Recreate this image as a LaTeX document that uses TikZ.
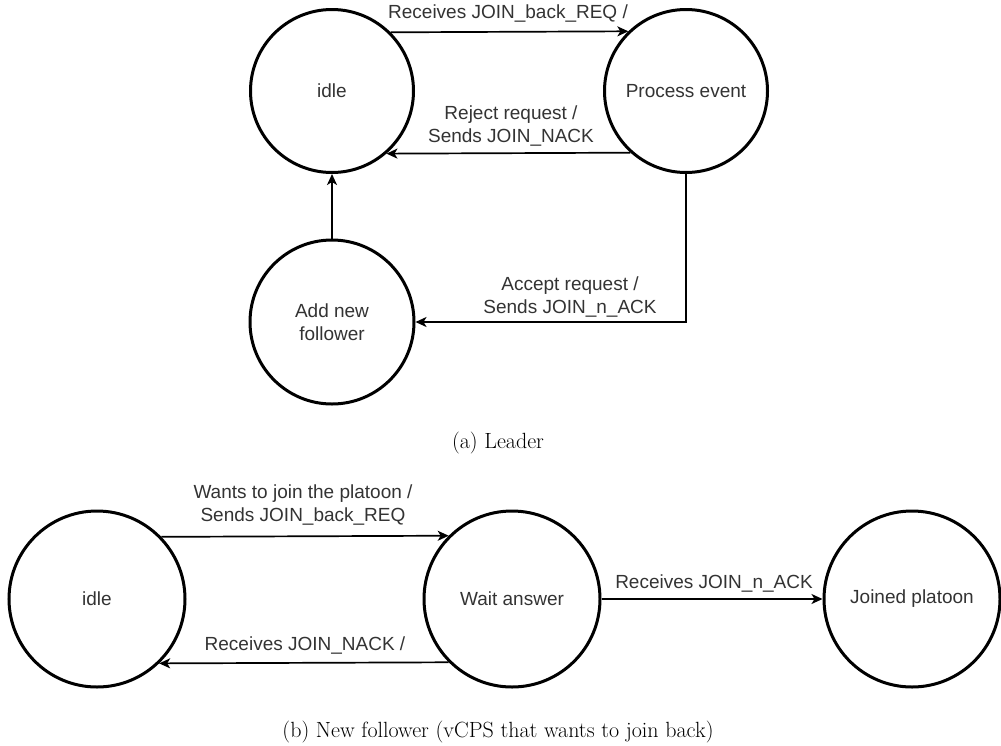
\documentclass[tikz,border=0pt]{standalone}
\usepackage{fontspec}
\setmainfont{Latin Modern Roman}
\newfontfamily\lblfont{Liberation Sans}
\usetikzlibrary{arrows.meta}

\tikzset{
  state/.style={draw=black, line width=3pt, circle, inner sep=0pt,
    minimum size=#1, align=center, text=black!80,
    font=\lblfont\fontsize{19}{23}\selectfont},
  state/.default=163pt,
  lbl/.style={align=center, inner sep=0pt, text=black!80,
    font=\lblfont\fontsize{19}{23}\selectfont},
  trans/.style={draw=black, line width=1.7pt,
    -{Stealth[length=11pt, width=10pt, inset=3pt]}},
  capt/.style={anchor=base, inner sep=0pt,
    font=\fontsize{22}{26}\selectfont},
}

\begin{document}
\begin{tikzpicture}[x=1pt, y=-1pt]
\useasboundingbox (0,0) rectangle (1001,745);

% ---- (a) Leader ----
\node[state] (idleA) at (332,91)  {idle};
\node[state] (proc)  at (686,91)  {Process event};
\node[state=164pt] (addf) at (332,322) {Add new\\follower};

\draw[trans] (idleA.45.7) -- (proc.134.3);
\draw[trans] (proc.228.9) -- (idleA.311.1);
\draw[trans] (addf.north) -- (idleA.south);
\draw[trans] (proc.south) |- (addf.east);

\node[lbl] (lRecv)   at (508,14)  {Receives JOIN\_back\_REQ /};
\node[lbl] (lReject) at (511,126) {Reject request /\\Sends JOIN\_NACK};
\node[lbl] (lAccept) at (570,297) {Accept request /\\Sends JOIN\_n\_ACK};

\node[capt] (captA) at (498,448) {(a) Leader};

% ---- (b) New follower ----
\node[state=176pt] (idleB)  at (97,599)  {idle};
\node[state=176pt] (wait)   at (512,599) {Wait answer};
\node[state=176pt] (joined) at (912,599) {Joined platoon};

\draw[trans] (idleB.44.8) -- (wait.135.2);
\draw[trans] (wait.225.7) -- (idleB.314.3);
\draw[trans] (wait.east) -- (joined.west);

\node[lbl] (lWants) at (303,505) {Wants to join the platoon /\\Sends JOIN\_back\_REQ};
\node[lbl] (lNack)  at (305,645) {Receives JOIN\_NACK /};
\node[lbl] (lAck)   at (714,583) {Receives JOIN\_n\_ACK};

\node[capt] (captB) at (498,737) {(b) New follower (vCPS that wants to join back)};
\end{tikzpicture}
\end{document}
